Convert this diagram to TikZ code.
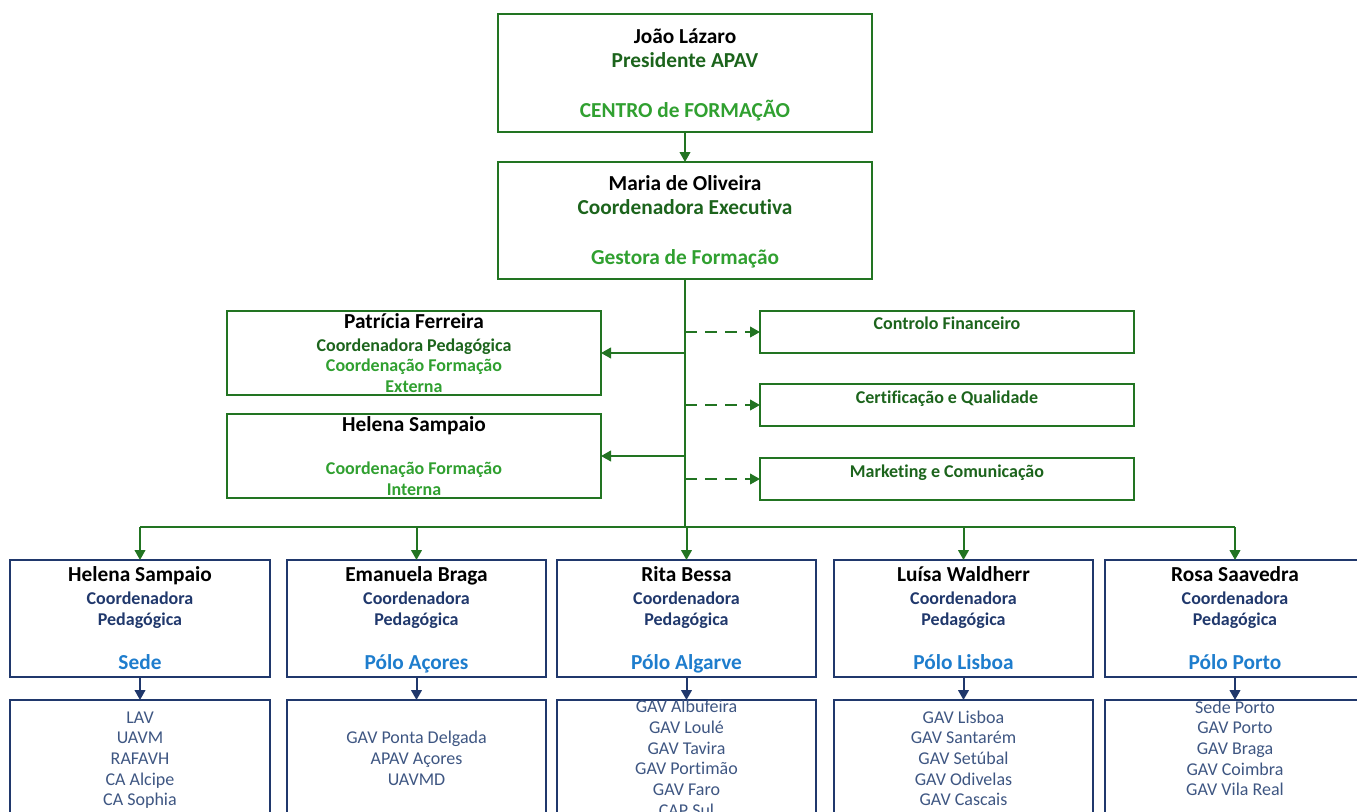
\documentclass[tikz,border=0pt]{standalone}
\usepackage{fontspec}
\setmainfont{Carlito}[Ligatures=NoCommon]
\usetikzlibrary{arrows.meta}

\definecolor{gline}{RGB}{34,116,34}
\definecolor{gdark}{RGB}{28,100,28}
\definecolor{glight}{RGB}{48,160,48}
\definecolor{navy}{RGB}{32,56,108}
\definecolor{polo}{RGB}{30,125,205}
\definecolor{slate}{RGB}{62,86,130}

\newcommand{\lgfont}{\fontsize{16}{18}\selectfont}
\newcommand{\smfont}{\fontsize{13.5}{15.5}\selectfont}
\newcommand{\even}{\vphantom{Ág}}

\tikzset{
  wh/.style 2 args={minimum width=#1*0.75pt, minimum height=#2*0.75pt},
  gbox/.style={draw=gline, line width=1.5pt, inner sep=0pt, outer sep=0pt},
  nbox/.style={draw=navy, line width=1.5pt, inner sep=0pt, outer sep=0pt},
  garrow/.style={draw=gline, line width=1.5pt, -{Triangle[length=7.5pt,width=8pt]}},
  narrow/.style={draw=navy, line width=1.5pt, -{Triangle[length=7.5pt,width=8pt]}},
  txt/.style={align=center, inner sep=0pt, font=\bfseries\smfont},
  listtxt/.style={align=center, inner sep=0pt, font=\smfont, text=slate},
}

\begin{document}
\begin{tikzpicture}[x=0.75pt, y=-0.75pt]
\useasboundingbox (0,0) rectangle (1357,811);
% Top of the chart
\node[gbox, wh={374}{118}] (pres) at (685,73) {};
\node[txt, font=\bfseries\lgfont] (pres-t) at (pres) {\even João Lázaro\\ \textcolor{gdark}{Presidente APAV}\\[19.5pt] \textcolor{glight}{CENTRO de FORMAÇÃO}\even};
\node[gbox, wh={374}{117}] (exec) at (685,220.5) {};
\node[txt, font=\bfseries\lgfont] (exec-t) at (exec) {\even Maria de Oliveira\\ \textcolor{gdark}{Coordenadora Executiva}\\[19.5pt] \textcolor{glight}{Gestora de Formação}\even};
\draw[garrow] (pres) -- (exec);
% Left side boxes
\node[gbox, wh={374}{84}] (patricia) at (414,353) {};
\node[txt] (patricia-t) at (patricia) {{\lgfont\even Patrícia Ferreira}\\[1.75pt] \textcolor{gdark}{Coordenadora Pedagógica}\\ \textcolor{glight}{Coordenação Formação}\\ \textcolor{glight}{Externa}\even};
\node[gbox, wh={374}{84}] (helena) at (414,456) {};
\node[txt] (helena-t) at (helena) {{\lgfont\even Helena Sampaio}\\[16.75pt] \textcolor{glight}{Coordenação Formação}\\ \textcolor{glight}{Interna}\even};
% Right side boxes
\node[gbox, wh={374}{42}] (fin) at (947,332) {};
\node[txt, text=gdark] (fin-t) at (947,323) {\even Controlo Financeiro};
\node[gbox, wh={374}{42}] (cert) at (947,405) {};
\node[txt, text=gdark] (cert-t) at (947,397) {\even Certificação e Qualidade};
\node[gbox, wh={374}{42}] (mkt) at (947,479) {};
\node[txt, text=gdark] (mkt-t) at (947,471) {\even Marketing e Comunicação};
% Trunk and branches
\coordinate (bus) at (685,527);
\draw[gline, line width=1.5pt] (exec.south) -- (bus);
\draw[garrow] (exec.south |- patricia.east) -- (patricia.east);
\draw[garrow] (exec.south |- helena.east) -- (helena.east);
\foreach \b in {fin,cert,mkt}
  \draw[garrow, dash pattern=on 9pt off 6pt] (exec.south |- \b.west) -- (\b.west); % dashed links
% Pole boxes
\foreach \b/\x/\w/\nm/\pl in {sede/140/260/Helena Sampaio/Sede, acores/416.5/259/Emanuela Braga/Pólo Açores, algarve/686.5/259/Rita Bessa/Pólo Algarve, lisboa/963.5/259/Luísa Waldherr/Pólo Lisboa, porto/1235/260/Rosa Saavedra/Pólo Porto}{
  \node[nbox, wh={\w}{117}] (\b) at (\x,618.5) {};
  \node[txt] (\b-t) at (\b) {{\lgfont\even \nm}\\[1.75pt] \textcolor{navy}{Coordenadora}\\ \textcolor{navy}{Pedagógica}\\[16.75pt] {\lgfont\color{polo}\pl\even}};
  \node[nbox, wh={\w}{117}] (\b-l) at (\x,758.5) {};
  \draw[narrow] (\b) -- (\b-l);
}
\draw[gline, line width=1.5pt] (sede.north |- bus) -- (porto.north |- bus);
\foreach \b in {sede,acores,algarve,lisboa,porto}
  \draw[garrow] (\b.north |- bus) -- (\b.north);
% Lists of offices
\foreach \b/\y/\items in {sede/758.5/{\even LAV\\UAVM\\RAFAVH\\CA Alcipe\\CA Sophia\even}, acores/758.5/{\even GAV Ponta Delgada\\APAV Açores\\UAVMD\even}, algarve/758.5/{\even GAV Albufeira\\GAV Loulé\\GAV Tavira\\GAV Portimão\\GAV Faro\\CAP Sul\even}, lisboa/758.5/{\even GAV Lisboa\\GAV Santarém\\GAV Setúbal\\GAV Odivelas\\GAV Cascais\even}, porto/748.5/{\even Sede Porto\\GAV Porto\\GAV Braga\\GAV Coimbra\\GAV Vila Real\even}}
  \node[listtxt] (\b-lt) at (\b-l |- 0,\y) {\items};
\end{tikzpicture}
\end{document}
